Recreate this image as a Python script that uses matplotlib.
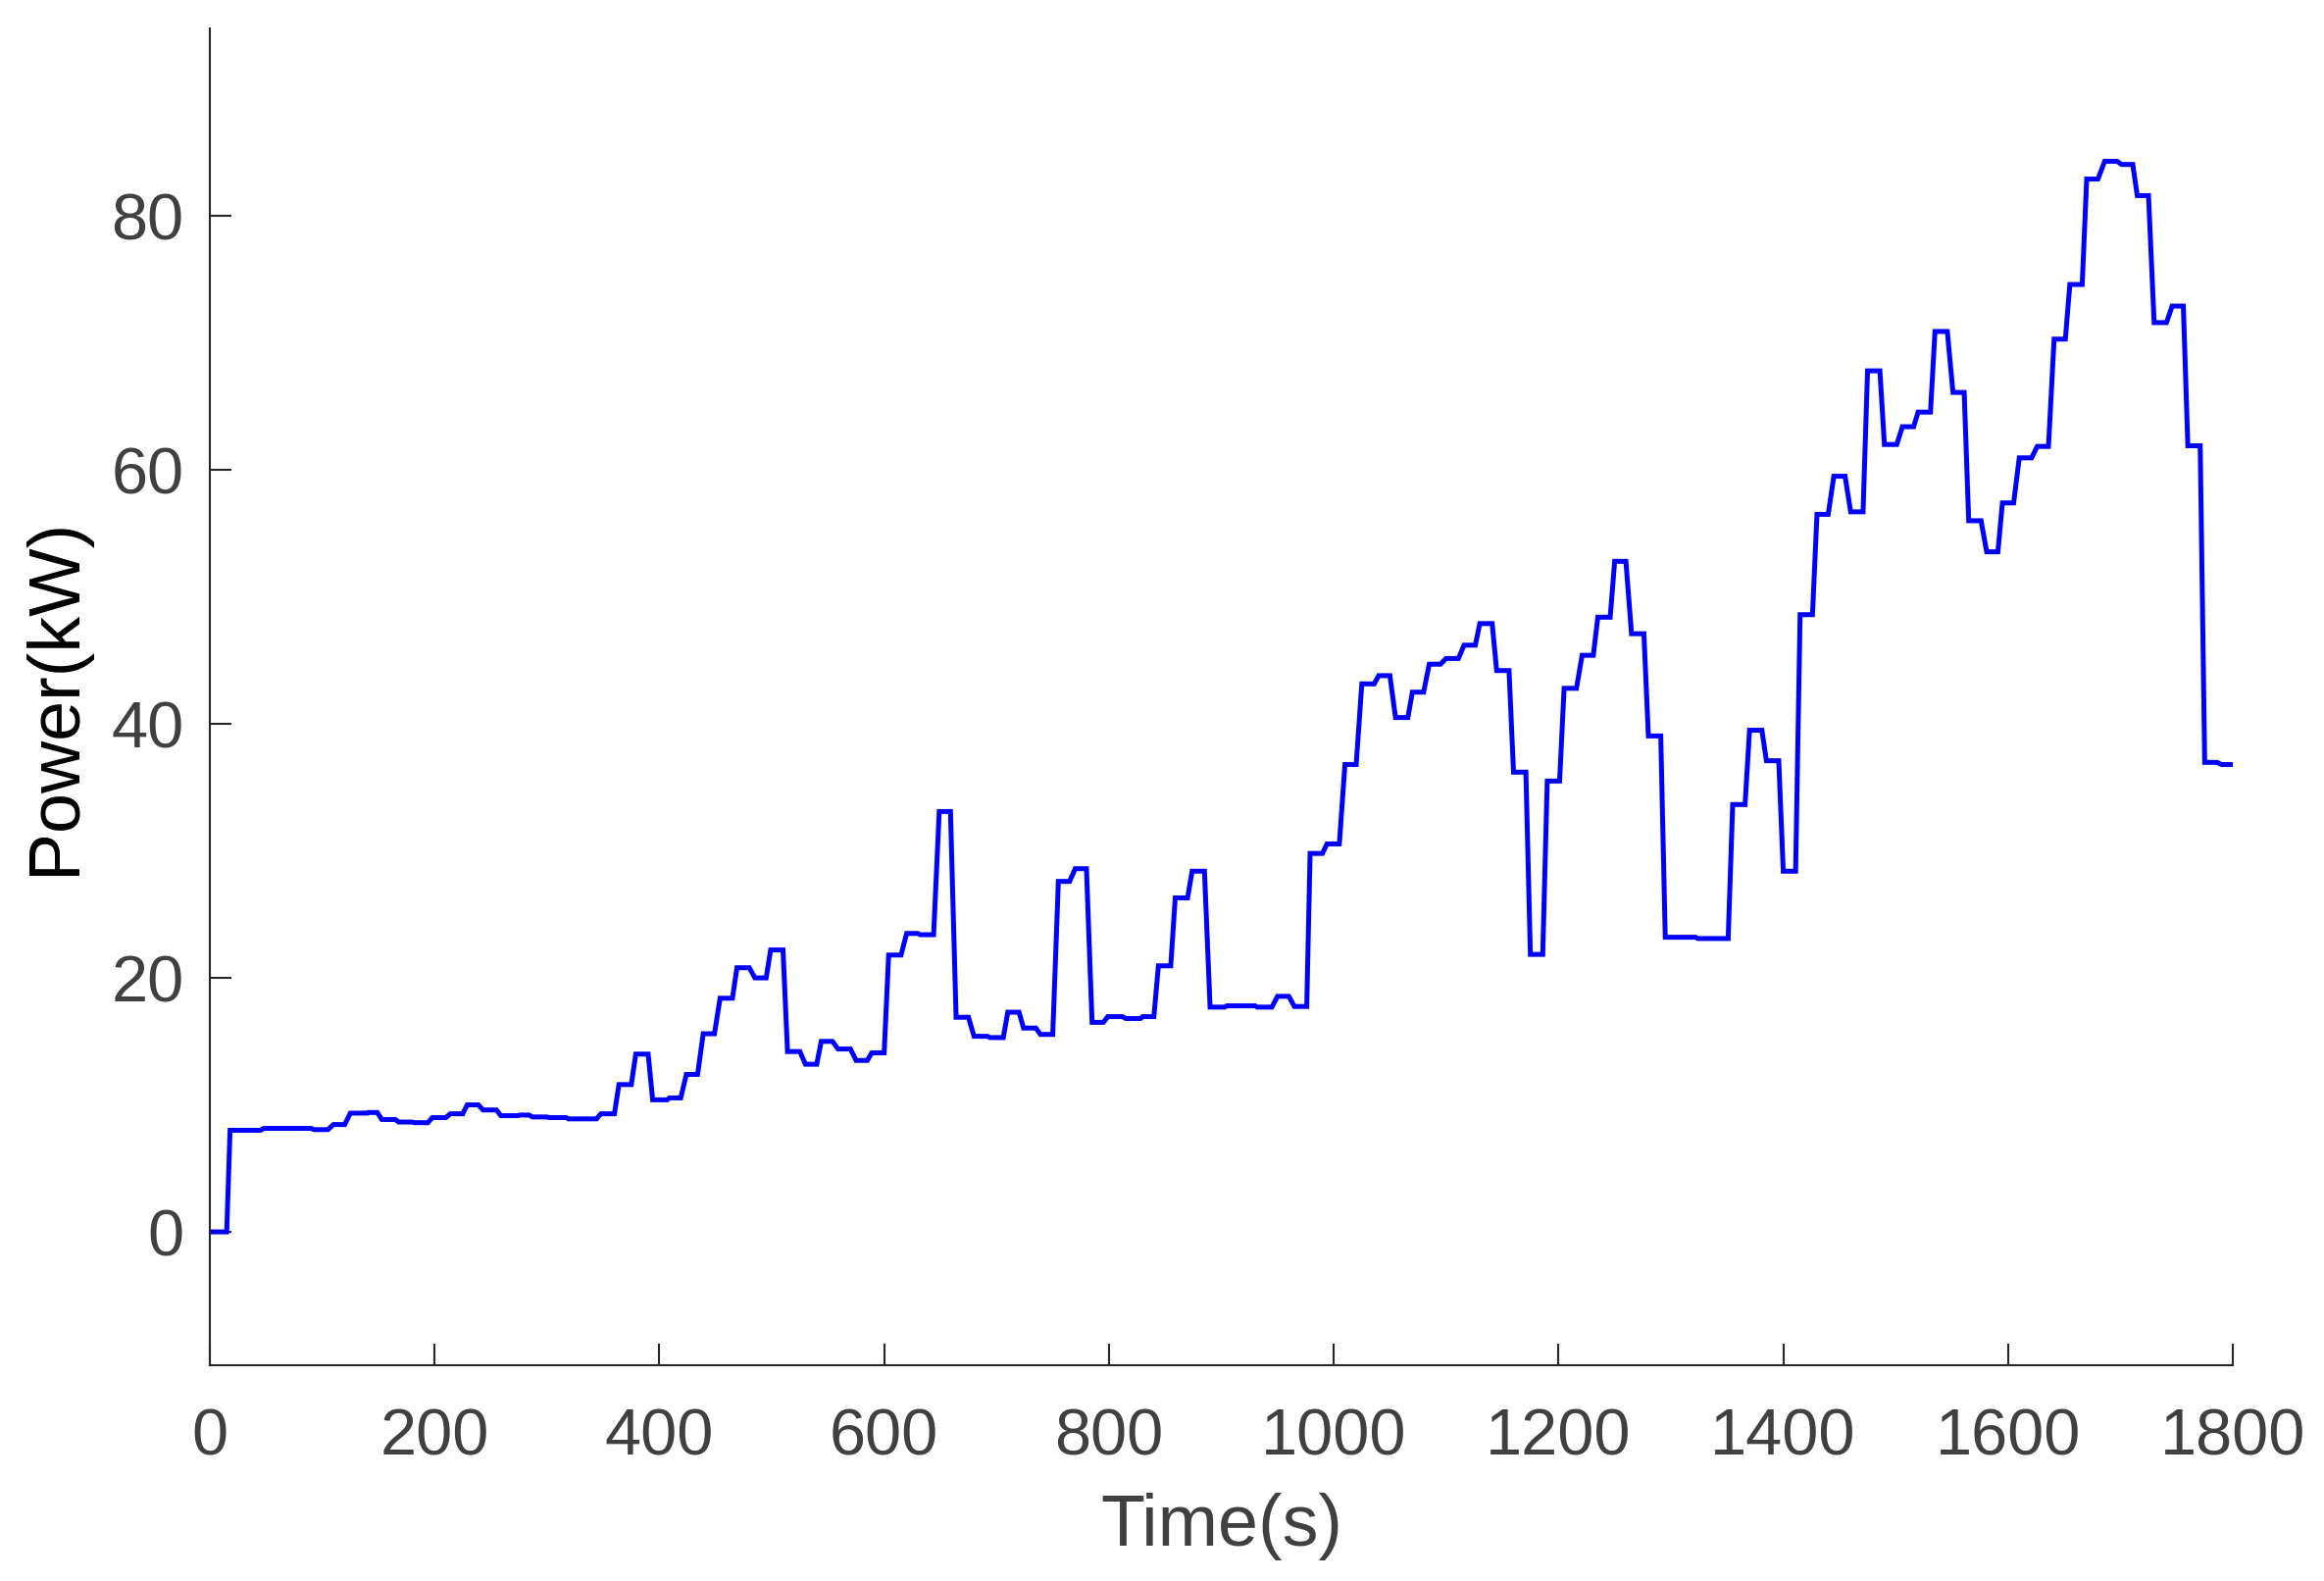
import matplotlib
matplotlib.use("Agg")
import matplotlib.pyplot as plt

# Breakpoints of the power trace (time in s, power in kW)
time_s = [
    0, 15, 18, 45, 48, 90, 93, 105, 110, 120, 125, 140, 141, 149, 153, 165, 168, 180,
    182, 194, 198, 210, 214, 225, 229, 239, 243, 255, 259, 274, 276, 284, 287, 300,
    302, 317, 319, 344, 348, 360, 364, 375, 379, 390, 394, 407, 409, 419, 424, 434,
    439, 449, 454, 465, 469, 480, 485, 495, 499, 510, 514, 525, 530, 540, 544, 554,
    559, 570, 575, 585, 589, 600, 604, 615, 620, 630, 632, 644, 649, 659, 664, 675,
    680, 692, 694, 706, 710, 720, 724, 735, 739, 750, 755, 765, 770, 780, 785, 795,
    799, 812, 815, 828, 830, 840, 844, 855, 859, 870, 874, 885, 890, 903, 905, 930,
    932, 945, 950, 960, 965, 976, 979, 990, 994, 1005, 1010, 1020, 1025, 1036, 1040,
    1050, 1055, 1066, 1070, 1080, 1085, 1095, 1100, 1111, 1116, 1126, 1130, 1141,
    1145, 1156, 1160, 1171, 1175, 1186, 1190, 1201, 1205, 1216, 1221, 1231, 1235,
    1246, 1250, 1260, 1265, 1276, 1280, 1291, 1295, 1322, 1324, 1351, 1355, 1366,
    1370, 1381, 1385, 1396, 1400, 1411, 1415, 1426, 1430, 1440, 1445, 1455, 1460,
    1471, 1475, 1486, 1490, 1501, 1506, 1516, 1520, 1531, 1535, 1546, 1551, 1561,
    1565, 1576, 1581, 1591, 1595, 1605, 1610, 1621, 1626, 1636, 1641, 1651, 1655,
    1666, 1670, 1680, 1686, 1697, 1701, 1711, 1715, 1725, 1730, 1741, 1746, 1756,
    1760, 1771, 1775, 1786, 1790, 1800,
]
power_kw = [
    0.0, 0.0, 8.0, 8.0, 8.15, 8.15, 8.05, 8.05, 8.45, 8.45, 9.35, 9.35, 9.4, 9.4,
    8.85, 8.85, 8.65, 8.65, 8.6, 8.6, 9.0, 9.0, 9.3, 9.3, 10.0, 10.0, 9.6, 9.6,
    9.15, 9.15, 9.2, 9.2, 9.05, 9.05, 9.0, 9.0, 8.9, 8.9, 9.3, 9.3, 11.6, 11.6,
    14.0, 14.0, 10.4, 10.4, 10.55, 10.55, 12.4, 12.4, 15.6, 15.6, 18.4, 18.4,
    20.8, 20.8, 20.0, 20.0, 22.2, 22.2, 14.2, 14.2, 13.2, 13.2, 15.0, 15.0,
    14.4, 14.4, 13.5, 13.5, 14.1, 14.1, 21.8, 21.8, 23.5, 23.5, 23.4, 23.4,
    33.1, 33.1, 16.9, 16.9, 15.4, 15.4, 15.3, 15.3, 17.3, 17.3, 16.05, 16.05,
    15.55, 15.55, 27.6, 27.6, 28.6, 28.6, 16.5, 16.5, 16.95, 16.95, 16.8, 16.8,
    16.95, 16.95, 20.95, 20.95, 26.3, 26.3, 28.4, 28.4, 17.7, 17.7, 17.8, 17.8,
    17.7, 17.7, 18.55, 18.55, 17.75, 17.75, 29.8, 29.8, 30.55, 30.55, 36.8, 36.8,
    43.15, 43.15, 43.8, 43.8, 40.5, 40.5, 42.5, 42.5, 44.7, 44.7, 45.15, 45.15,
    46.2, 46.2, 47.9, 47.9, 44.2, 44.2, 36.2, 36.2, 21.85, 21.85, 35.5, 35.5,
    42.8, 42.8, 45.4, 45.4, 48.4, 48.4, 52.8, 52.8, 47.1, 47.1, 39.05, 39.05,
    23.2, 23.2, 23.1, 23.1, 33.65, 33.65, 39.5, 39.5, 37.1, 37.1, 28.4, 28.4,
    48.6, 48.6, 56.5, 56.5, 59.5, 59.5, 56.7, 56.7, 67.8, 67.8, 62.0, 62.0,
    63.4, 63.4, 64.55, 64.55, 70.9, 70.9, 66.1, 66.1, 56.0, 56.0, 53.55, 53.55,
    57.4, 57.4, 60.95, 60.95, 61.85, 61.85, 70.3, 70.3, 74.6, 74.6, 82.9, 82.9,
    84.3, 84.3, 84.05, 84.05, 81.6, 81.6, 71.6, 71.6, 72.9, 72.9, 61.9, 61.9,
    36.97, 36.97, 36.8, 36.8,
]

x_ticks = [0, 200, 400, 600, 800, 1000, 1200, 1400, 1600, 1800]
y_ticks = [0, 20, 40, 60, 80]

plt.rcParams['font.family'] = ['Liberation Sans', 'DejaVu Sans']

fig = plt.figure(figsize=(23.70, 16.12), dpi=100)
ax = fig.add_axes([214 / 2370, 1 - 1392 / 1612, (2277 - 214) / 2370, (1392 - 28.5) / 1612])

ax.plot(time_s, power_kw, color=(0, 0, 1), linewidth=3.6, solid_joinstyle='miter')

ax.set_xlim(0, 1800)
ax.set_ylim(-10.5, 94.8)
ax.set_xticks(x_ticks)
ax.set_yticks(y_ticks)
ax.set_xticklabels([str(v) for v in x_ticks])
ax.set_yticklabels([str(v) for v in y_ticks])

for side in ('top', 'right'):
    ax.spines[side].set_visible(False)
for side in ('left', 'bottom'):
    ax.spines[side].set_color('#262626')
    ax.spines[side].set_linewidth(1.5)

ax.tick_params(axis='both', direction='in', length=15.8, width=1.5, color='#262626',
               labelsize=48, labelcolor='#404040')
ax.tick_params(axis='x', pad=31)
ax.tick_params(axis='y', pad=19)

ax.set_xlabel('Time(s)', fontsize=53, color='#404040', labelpad=18)
ax.set_ylabel('Power(kW)', fontsize=53, color='black', labelpad=16)

fig.savefig('out.png', dpi=100, facecolor='white')
